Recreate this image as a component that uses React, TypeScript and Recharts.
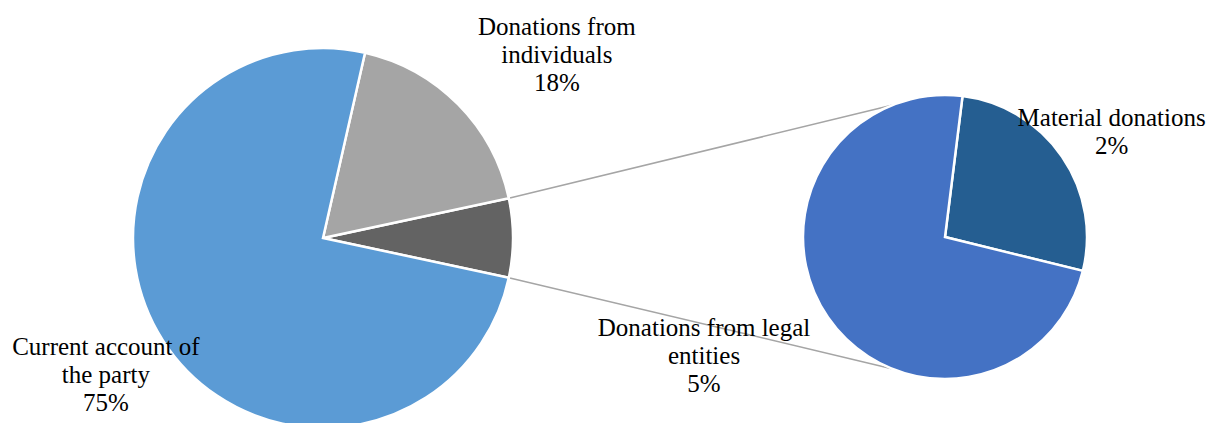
import { PieChart, Pie, Cell, Customized } from 'recharts';

// main pie: the "other" slice is split out into the small pie on the right
const mainNames = ['Donations from\nindividuals', 'Current account of\nthe party'];
const mainValues = [18.1, 75.2];
const mainColors = ['#A5A5A5', '#5B9BD5'];
const otherColor = '#636363';

const subNames = ['Material donations', 'Donations from legal\nentities'];
const subValues = [1.8, 4.9];
const subColors = ['#255E91', '#4472C4'];

const W = 1212;
const H = 423;
const LEFT = { cx: 323, cy: 238, r: 190 };
const RIGHT = { cx: 945, cy: 237, r: 142 };
const LH = 28;
const FONT = '"Liberation Serif", "Times New Roman", serif';

// where each label sits: angle shift from slice middle, distance as factor of radius
const labelPos: Record<string, { shift: number; k: number }> = {
  'Donations from\nindividuals': { shift: -6.6, k: 1.563 },
  'Current account of\nthe party': { shift: -0.4, k: 1.35 },
  'Donations from legal\nentities': { shift: -8.25, k: 1.893 },
  'Material donations': { shift: -2.35, k: 1.387 },
};

const otherValue = subValues.reduce((s, v) => s + v, 0);
const total = mainValues.reduce((s, v) => s + v, 0) + otherValue;
const otherAngle = (otherValue / total) * 360;
const leftStart = -otherAngle / 2;
const rightStart = -13.8;
const connectorAngle = 112;

const mainData = [
  { name: 'Other', value: otherValue, color: otherColor },
  ...mainNames.map((n, i) => ({ name: n, value: mainValues[i], color: mainColors[i] })),
];
const subData = subNames.map((n, i) => ({ name: n, value: subValues[i], color: subColors[i] }));

const RAD = Math.PI / 180;
const polar = (cx: number, cy: number, r: number, a: number) => [
  cx + r * Math.cos(-a * RAD),
  cy + r * Math.sin(-a * RAD),
];

const renderLabel = (props: any) => {
  const { cx, cy, midAngle, outerRadius, name, value } = props;
  const off = labelPos[name];
  if (!off) return null;
  const [x, y] = polar(cx, cy, outerRadius * off.k, midAngle + off.shift);
  const lines = [...String(name).split('\n'), `${Math.round((value / total) * 100)}%`];
  const first = y - ((lines.length - 1) / 2) * LH + 8;
  return (
    <text textAnchor="middle" fill="#000" fontFamily={FONT} fontSize={25}>
      {lines.map((l, i) => (
        <tspan key={i} x={x} y={first + i * LH}>
          {l}
        </tspan>
      ))}
    </text>
  );
};

const Connectors = () => {
  const [x1, y1] = polar(LEFT.cx, LEFT.cy, LEFT.r, leftStart + otherAngle);
  const [x2, y2] = polar(LEFT.cx, LEFT.cy, LEFT.r, leftStart);
  const [x3, y3] = polar(RIGHT.cx, RIGHT.cy, RIGHT.r, connectorAngle);
  const [x4, y4] = polar(RIGHT.cx, RIGHT.cy, RIGHT.r, -connectorAngle);
  return (
    <g stroke="#A5A5A5" strokeWidth={1.5}>
      <line x1={x1} y1={y1} x2={x3} y2={y3} />
      <line x1={x2} y1={y2} x2={x4} y2={y4} />
    </g>
  );
};

export default function App() {
  return (
    <div style={{ position: 'absolute', left: 0, top: 0, width: W, height: H, background: '#fff' }}>
      <PieChart width={W} height={H} margin={{ top: 0, right: 0, bottom: 0, left: 0 }}>
        <Customized component={Connectors} />
        <Pie
          data={mainData}
          dataKey="value"
          nameKey="name"
          cx={LEFT.cx}
          cy={LEFT.cy}
          outerRadius={LEFT.r}
          startAngle={leftStart}
          endAngle={leftStart + 360}
          stroke="#fff"
          strokeWidth={2.5}
          label={renderLabel}
          labelLine={false}
          isAnimationActive={false}
        >
          {mainData.map((d, i) => (
            <Cell key={`m-${i}`} fill={d.color} />
          ))}
        </Pie>
        <Pie
          data={subData}
          dataKey="value"
          nameKey="name"
          cx={RIGHT.cx}
          cy={RIGHT.cy}
          outerRadius={RIGHT.r}
          startAngle={rightStart}
          endAngle={rightStart + 360}
          stroke="#fff"
          strokeWidth={2.5}
          label={renderLabel}
          labelLine={false}
          isAnimationActive={false}
        >
          {subData.map((d, i) => (
            <Cell key={`s-${i}`} fill={d.color} />
          ))}
        </Pie>
      </PieChart>
    </div>
  );
}
